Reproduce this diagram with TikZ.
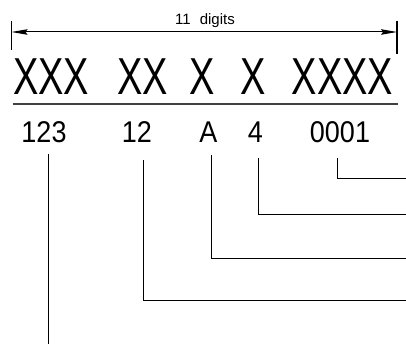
\documentclass[tikz,border=0pt]{standalone}
\usepackage{fontspec}
\usepackage{graphicx}
\setmainfont{Liberation Sans}
\usetikzlibrary{arrows.meta}
\tikzset{
  big/.style={anchor=base, inner sep=0pt, font=\fontsize{52}{52}\selectfont},
  dig/.style={anchor=base, inner sep=0pt, font=\fontsize{30}{30}\selectfont},
  conn/.style={line width=0.9pt, black},
  tick/.style={line width=1.2pt, black},
  dim/.style={line width=1pt, black, {Stealth[length=16pt,width=5.5pt,inset=2pt]}-{Stealth[length=16pt,width=5.5pt,inset=2pt]}},
  rule/.style={line width=2pt, black!75}
}
\begin{document}
\begin{tikzpicture}[x=1pt,y=-1pt]
\useasboundingbox (0,0) rectangle (406,344);
% dimension
\coordinate (tl1) at (11.5,21);
\coordinate (tl2) at (11.5,50);
\coordinate (tr1) at (397,21);
\coordinate (tr2) at (397,54);
\draw[tick] (tl1) -- (tl2);
\draw[tick] (tr1) -- (tr2);
\coordinate (al) at (11.5,32);
\coordinate (ar) at (397,32);
\draw[dim] (al) -- (ar);
\node[anchor=base, inner sep=0pt, font=\fontsize{15}{15}\selectfont] (lab) at (205,25) {11\hspace{0.6em}digits};
% big letters
\node[big] (x1) at (51,95) {\scalebox{0.73}[1]{XXX}};
\node[big] (x2) at (142.5,95) {\scalebox{0.73}[1]{XX}};
\node[big] (x3) at (202.5,95) {\scalebox{0.73}[1]{X}};
\node[big] (x4) at (253,95) {\scalebox{0.73}[1]{X}};
\node[big] (x5) at (342.5,95) {\scalebox{0.73}[1]{XXXX}};
% rule
\coordinate (r1) at (12.5,104);
\coordinate (r2) at (398,104);
\draw[rule] (r1) -- (r2);
% digits
\node[dig] (d1) at (44,143) {\scalebox{0.9}[1]{123}};
\node[dig] (d2) at (137,143) {\scalebox{0.9}[1]{12}};
\node[dig] (d3) at (208.5,143) {\scalebox{0.9}[1]{A}};
\node[dig] (d4) at (255.5,143) {\scalebox{0.9}[1]{4}};
\node[dig] (d5) at (340,143) {\scalebox{0.9}[1]{0001}};
% connector ends
\coordinate (e5) at (406,178);
\coordinate (e4) at (406,214);
\coordinate (e3) at (406,258);
\coordinate (e2) at (406,300);
\coordinate (e1) at (48,344);
\draw[conn] ([xshift=-3pt,yshift=-15pt]d5.base) |- (e5);
\draw[conn] ([xshift=2.5pt,yshift=-15pt]d4.base) |- (e4);
\draw[conn] ([xshift=2.5pt,yshift=-12pt]d3.base) |- (e3);
\draw[conn] ([xshift=6pt,yshift=-17pt]d2.base) |- (e2);
\draw[conn] ([xshift=4pt,yshift=-11pt]d1.base) -- (e1);
\end{tikzpicture}
\end{document}
